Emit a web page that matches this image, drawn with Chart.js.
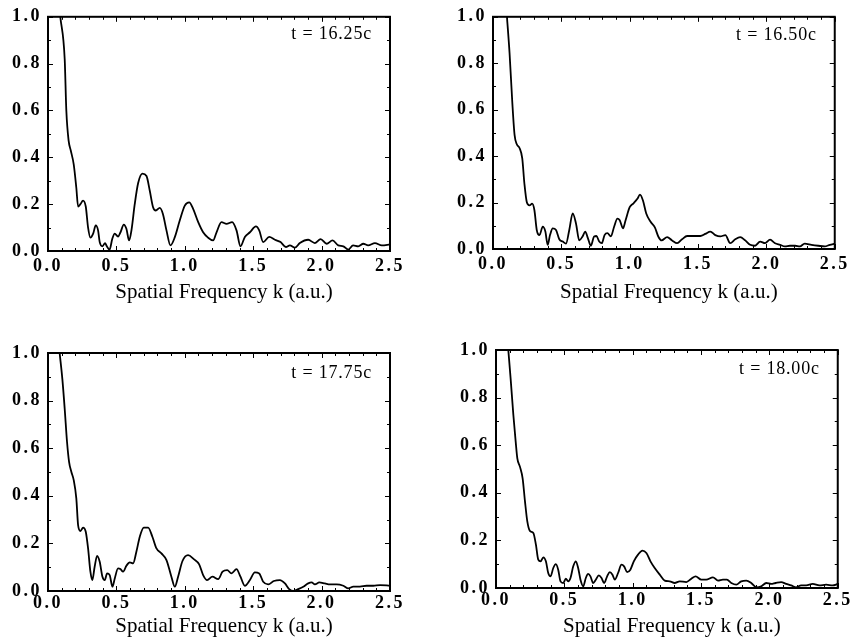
<!DOCTYPE html>
<html>
<head>
<meta charset="utf-8">
<script src="https://cdn.jsdelivr.net/npm/chart.js@4.4.0/dist/chart.umd.min.js"></script>
<style>
  html, body { margin: 0; padding: 0; background: #fff; }
  body { width: 851px; height: 643px; position: relative; overflow: hidden; }
  canvas { position: absolute; }
</style>
</head>
<body>
<canvas id="c1" width="420" height="310" style="left:0;top:0"></canvas>
<canvas id="c2" width="406" height="310" style="left:445px;top:0"></canvas>
<canvas id="c3" width="420" height="323" style="left:0;top:320px"></canvas>
<canvas id="c4" width="403" height="323" style="left:448px;top:320px"></canvas>
<script>
// spectra: [k, amplitude]
const curve1625 = [[0.09,1.0],[0.122,0.82],[0.134,0.60],[0.151,0.47],[0.166,0.43],[0.188,0.37],[0.207,0.27],[0.22,0.19],[0.237,0.20],[0.256,0.215],[0.276,0.19],[0.293,0.10],[0.31,0.057],[0.33,0.074],[0.349,0.109],[0.366,0.088],[0.378,0.038],[0.398,0.02],[0.417,0.034],[0.43,0.02],[0.45,0.006],[0.47,0.052],[0.488,0.074],[0.512,0.062],[0.53,0.08],[0.554,0.113],[0.573,0.095],[0.593,0.045],[0.61,0.088],[0.634,0.20],[0.659,0.29],[0.69,0.33],[0.72,0.32],[0.744,0.257],[0.768,0.187],[0.788,0.173],[0.817,0.184],[0.84,0.158],[0.866,0.088],[0.895,0.024],[0.927,0.059],[0.963,0.13],[1.0,0.194],[1.032,0.208],[1.061,0.18],[1.098,0.123],[1.134,0.08],[1.17,0.057],[1.207,0.045],[1.232,0.08],[1.268,0.123],[1.305,0.116],[1.346,0.123],[1.378,0.088],[1.407,0.02],[1.439,0.06],[1.476,0.08],[1.52,0.105],[1.544,0.088],[1.573,0.038],[1.617,0.06],[1.659,0.048],[1.7,0.038],[1.739,0.017],[1.768,0.024],[1.805,0.014],[1.841,0.034],[1.902,0.048],[1.95,0.034],[1.993,0.051],[2.037,0.031],[2.08,0.045],[2.122,0.024],[2.159,0.02],[2.195,0.006],[2.23,0.024],[2.268,0.02],[2.305,0.031],[2.34,0.024],[2.39,0.034],[2.44,0.024],[2.5,0.028]];

const curve1650 = [[0.102,1.0],[0.121,0.845],[0.141,0.633],[0.158,0.49],[0.175,0.45],[0.194,0.435],[0.214,0.39],[0.23,0.28],[0.248,0.20],[0.267,0.188],[0.286,0.195],[0.303,0.167],[0.32,0.082],[0.34,0.06],[0.364,0.096],[0.383,0.075],[0.4,0.018],[0.417,0.06],[0.437,0.089],[0.461,0.082],[0.485,0.042],[0.51,0.032],[0.534,0.023],[0.558,0.082],[0.583,0.153],[0.607,0.11],[0.631,0.037],[0.655,0.054],[0.675,0.075],[0.694,0.047],[0.716,0.014],[0.74,0.054],[0.757,0.056],[0.777,0.032],[0.796,0.025],[0.816,0.06],[0.837,0.068],[0.862,0.054],[0.886,0.096],[0.91,0.131],[0.927,0.124],[0.951,0.089],[0.97,0.124],[1.0,0.18],[1.03,0.198],[1.056,0.216],[1.075,0.234],[1.097,0.209],[1.121,0.153],[1.153,0.117],[1.184,0.093],[1.209,0.054],[1.233,0.037],[1.274,0.051],[1.31,0.037],[1.347,0.025],[1.383,0.042],[1.42,0.056],[1.468,0.056],[1.517,0.056],[1.553,0.065],[1.59,0.075],[1.626,0.06],[1.663,0.054],[1.7,0.06],[1.735,0.025],[1.772,0.042],[1.808,0.051],[1.845,0.037],[1.881,0.018],[1.917,0.014],[1.954,0.032],[1.99,0.025],[2.027,0.04],[2.063,0.025],[2.1,0.018],[2.136,0.011],[2.172,0.014],[2.21,0.014],[2.245,0.011],[2.28,0.023],[2.33,0.018],[2.38,0.014],[2.427,0.011],[2.464,0.018],[2.5,0.023]];

const curve1775 = [[0.085,1.0],[0.105,0.89],[0.122,0.766],[0.139,0.627],[0.154,0.543],[0.171,0.5],[0.188,0.466],[0.207,0.389],[0.22,0.277],[0.237,0.252],[0.256,0.266],[0.276,0.249],[0.293,0.179],[0.31,0.081],[0.324,0.046],[0.341,0.102],[0.359,0.148],[0.378,0.123],[0.398,0.06],[0.415,0.046],[0.432,0.074],[0.451,0.067],[0.471,0.018],[0.488,0.053],[0.512,0.095],[0.529,0.092],[0.549,0.081],[0.573,0.106],[0.598,0.12],[0.622,0.116],[0.646,0.165],[0.671,0.228],[0.7,0.266],[0.732,0.266],[0.763,0.228],[0.793,0.179],[0.829,0.158],[0.866,0.13],[0.902,0.06],[0.927,0.018],[0.951,0.06],[0.983,0.126],[1.024,0.151],[1.066,0.134],[1.105,0.112],[1.134,0.067],[1.163,0.046],[1.202,0.06],[1.244,0.05],[1.276,0.081],[1.31,0.088],[1.341,0.074],[1.378,0.092],[1.407,0.06],[1.439,0.022],[1.476,0.046],[1.512,0.078],[1.544,0.074],[1.573,0.039],[1.61,0.028],[1.651,0.042],[1.695,0.046],[1.732,0.032],[1.763,0.008],[1.793,0.0],[1.829,0.008],[1.866,0.018],[1.902,0.032],[1.927,0.036],[1.951,0.028],[1.983,0.036],[2.024,0.032],[2.061,0.028],[2.11,0.028],[2.159,0.022],[2.195,0.011],[2.232,0.018],[2.28,0.018],[2.329,0.022],[2.378,0.022],[2.427,0.025],[2.5,0.022]];

const curve1800 = [[0.09,1.0],[0.107,0.88],[0.127,0.727],[0.144,0.615],[0.156,0.545],[0.175,0.51],[0.195,0.46],[0.212,0.364],[0.229,0.28],[0.248,0.24],[0.273,0.231],[0.292,0.182],[0.309,0.119],[0.326,0.112],[0.346,0.129],[0.365,0.112],[0.382,0.063],[0.399,0.049],[0.419,0.084],[0.438,0.1],[0.455,0.077],[0.472,0.028],[0.492,0.021],[0.511,0.039],[0.528,0.028],[0.545,0.042],[0.565,0.091],[0.584,0.112],[0.601,0.084],[0.618,0.035],[0.638,0.007],[0.657,0.042],[0.674,0.059],[0.691,0.049],[0.711,0.021],[0.73,0.035],[0.752,0.053],[0.772,0.042],[0.791,0.021],[0.813,0.049],[0.833,0.067],[0.852,0.056],[0.869,0.035],[0.893,0.063],[0.918,0.098],[0.937,0.091],[0.959,0.067],[0.983,0.077],[1.008,0.112],[1.039,0.14],[1.071,0.157],[1.1,0.147],[1.13,0.112],[1.161,0.084],[1.198,0.056],[1.234,0.031],[1.271,0.028],[1.307,0.021],[1.344,0.028],[1.392,0.025],[1.429,0.039],[1.46,0.049],[1.502,0.035],[1.538,0.035],[1.587,0.045],[1.624,0.031],[1.66,0.035],[1.689,0.035],[1.721,0.021],[1.758,0.014],[1.794,0.028],[1.831,0.031],[1.867,0.021],[1.904,0.003],[1.94,0.007],[1.977,0.021],[2.013,0.017],[2.045,0.021],[2.086,0.025],[2.123,0.017],[2.159,0.011],[2.196,0.003],[2.232,0.011],[2.269,0.011],[2.317,0.017],[2.366,0.011],[2.415,0.014],[2.463,0.011],[2.5,0.017]];

const panelLabels = ['t = 16.25c', 't = 16.50c', 't = 17.75c', 't = 18.00c'];
const xTickValues = [0.0, 0.5, 1.0, 1.5, 2.0, 2.5];
const yTickValues = [0.0, 0.2, 0.4, 0.6, 0.8, 1.0];
const xAxisTitle = 'Spatial Frequency k (a.u.)';

const SERIF = "'Liberation Serif', 'Times New Roman', serif";

// frame, inward minor ticks on all four sides, time label and axis title
const framePlugin = {
  id: 'frame',
  beforeDraw(chart) {
    // the scanned tick numerals are set wide
    chart.ctx.letterSpacing = '2.5px';
  },
  afterDraw(chart, args, opts) {
    const ctx = chart.ctx;
    const { left, right, top, bottom } = chart.chartArea;
    const xs = chart.scales.x, ys = chart.scales.y;
    ctx.letterSpacing = '0px';
    ctx.save();
    ctx.strokeStyle = '#000';
    ctx.lineWidth = 2;
    ctx.strokeRect(left, top, right - left, bottom - top);
    ctx.lineWidth = 1;
    ctx.beginPath();
    for (let i = 0; i <= 25; i++) {
      const px = Math.round(xs.getPixelForValue(i / 10)) + 0.5;
      const len = i % 5 === 0 ? 5 : 3;
      ctx.moveTo(px, bottom); ctx.lineTo(px, bottom - len);
      ctx.moveTo(px, top); ctx.lineTo(px, top + len);
    }
    for (let i = 0; i <= 10; i++) {
      const py = Math.round(ys.getPixelForValue(i / 10)) + 0.5;
      const len = i % 2 === 0 ? 5 : 3;
      ctx.moveTo(left, py); ctx.lineTo(left + len, py);
      ctx.moveTo(right, py); ctx.lineTo(right - len, py);
    }
    ctx.stroke();
    ctx.fillStyle = '#000';
    ctx.textBaseline = 'alphabetic';

    ctx.font = '18px ' + SERIF;
    ctx.textAlign = 'right';
    ctx.letterSpacing = '0.8px';
    ctx.fillText(opts.label, right - 18, top + opts.labelDy);

    ctx.font = '21px ' + SERIF;
    ctx.textAlign = 'center';
    ctx.letterSpacing = '0px';
    ctx.fillText(xAxisTitle, (left + right) / 2 + 5, opts.titleY);
    ctx.restore();
  }
};

const panels = [
  { id: 'c1', curve: curve1625, label: panelLabels[0], pad: { left: 0, right: 30, top: 15, bottom: 0 }, xH: 59, tickPad: 5, labelDy: 22, titleY: 298 },
  { id: 'c2', curve: curve1650, label: panelLabels[1], pad: { left: 0, right: 14, top: 13, bottom: 0 }, xH: 61, tickPad: 5, labelDy: 23, titleY: 298 },
  { id: 'c3', curve: curve1775, label: panelLabels[2], pad: { left: 0, right: 30, top: 33, bottom: 0 }, xH: 52, tickPad: 2, labelDy: 25, titleY: 312 },
  { id: 'c4', curve: curve1800, label: panelLabels[3], pad: { left: 0, right: 13, top: 30, bottom: 0 }, xH: 55, tickPad: 2, labelDy: 24, titleY: 312 }
];

panels.forEach(function (p) {
  new Chart(document.getElementById(p.id), {
    type: 'line',
    data: {
      datasets: [{
        data: p.curve.map(function (d) { return { x: d[0], y: d[1] }; }),
        borderColor: '#000',
        borderWidth: 1.8,
        pointRadius: 0,
        cubicInterpolationMode: 'monotone',
        fill: false
      }]
    },
    options: {
      responsive: false,
      animation: false,
      layout: { padding: p.pad },
      plugins: {
        legend: { display: false },
        tooltip: { enabled: false },
        frame: { label: p.label, labelDy: p.labelDy, titleY: p.titleY }
      },
      scales: {
        x: {
          type: 'linear',
          min: 0, max: 2.5,
          afterBuildTicks: function (s) { s.ticks = xTickValues.map(function (v) { return { value: v }; }); },
          afterFit: function (s) { s.height = p.xH; },
          grid: { display: false, drawTicks: false },
          border: { display: false },
          ticks: {
            color: '#000',
            padding: p.tickPad,
            maxRotation: 0,
            font: { family: SERIF, size: 18, weight: 'bold' },
            callback: function (v) { return Number(v).toFixed(1); }
          }
        },
        y: {
          min: 0, max: 1,
          afterBuildTicks: function (s) { s.ticks = yTickValues.map(function (v) { return { value: v }; }); },
          afterFit: function (s) { s.width = 48; },
          grid: { display: false, drawTicks: false },
          border: { display: false },
          ticks: {
            color: '#000',
            padding: 6,
            font: { family: SERIF, size: 18, weight: 'bold' },
            callback: function (v) { return Number(v).toFixed(1); }
          }
        }
      }
    },
    plugins: [framePlugin]
  });
});
</script>
</body>
</html>
